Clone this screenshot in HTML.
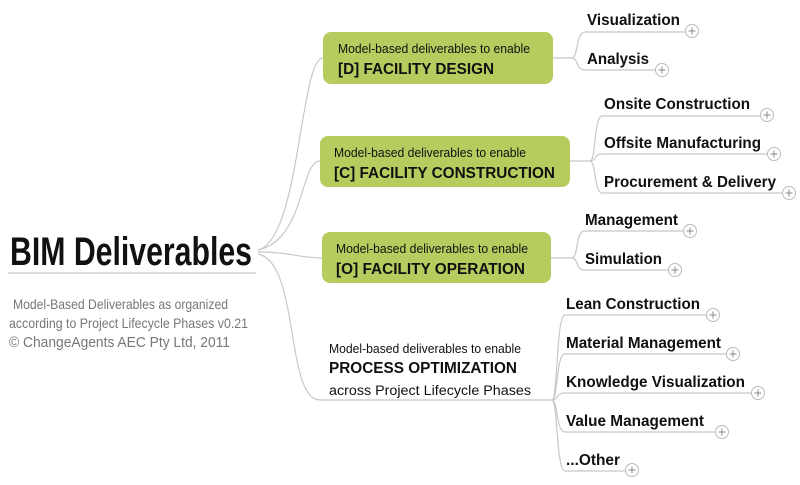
<!DOCTYPE html>
<html><head><meta charset="utf-8"><style>
html,body{margin:0;padding:0;background:#fff;width:800px;height:485px;overflow:hidden}
svg{display:block}
text{font-family:"Liberation Sans",sans-serif}
.b{font-weight:bold;fill:#111}
.leaf{font-weight:bold;font-size:16px;fill:#111}
.sm{font-size:12.5px;fill:#111}
.ln{fill:none;stroke:#c8c8c8;stroke-width:1.2}
.pl circle{fill:#fff;stroke:#bbb;stroke-width:1}
.pl path{stroke:#888;stroke-width:1}
</style></head><body>
<svg width="800" height="485" viewBox="0 0 800 485">
<path class="ln" d="M258 250 C300 240 300 58 323 58"/>
<path class="ln" d="M258 250 C305 240 300 161 320 161"/>
<path class="ln" d="M258 252 C290 252 300 258 322 258"/>
<path class="ln" d="M258 254 C300 262 285 400 320 400 L552 400"/>

<text x="10" y="265" class="b" font-size="40" textLength="242" lengthAdjust="spacingAndGlyphs">BIM Deliverables</text>
<line x1="8" y1="273" x2="256" y2="273" stroke="#c8c8c8" stroke-width="1.2"/>
<text x="13" y="309" font-size="14" fill="#777" textLength="215" lengthAdjust="spacingAndGlyphs">Model-Based Deliverables as organized</text>
<text x="9" y="328" font-size="14" fill="#777" textLength="239" lengthAdjust="spacingAndGlyphs">according to Project Lifecycle Phases  v0.21</text>
<text x="9" y="347" font-size="15" fill="#777" textLength="221" lengthAdjust="spacingAndGlyphs">© ChangeAgents AEC Pty Ltd, 2011</text>

<rect x="323" y="32" width="230" height="52" rx="8" fill="#b6cc5e"/>
<text x="338" y="53" class="sm" textLength="192" lengthAdjust="spacingAndGlyphs">Model-based deliverables to enable</text>
<text x="338" y="74" class="b" font-size="16" textLength="156" lengthAdjust="spacingAndGlyphs">[D] FACILITY DESIGN</text>

<rect x="320" y="136" width="250" height="51" rx="8" fill="#b6cc5e"/>
<text x="334" y="157" class="sm" textLength="192" lengthAdjust="spacingAndGlyphs">Model-based deliverables to enable</text>
<text x="334" y="178" class="b" font-size="16" textLength="221" lengthAdjust="spacingAndGlyphs">[C] FACILITY CONSTRUCTION</text>

<rect x="322" y="232" width="229" height="51" rx="8" fill="#b6cc5e"/>
<text x="336" y="253" class="sm" textLength="192" lengthAdjust="spacingAndGlyphs">Model-based deliverables to enable</text>
<text x="336" y="274" class="b" font-size="16" textLength="189" lengthAdjust="spacingAndGlyphs">[O] FACILITY OPERATION</text>

<text x="329" y="353" class="sm" textLength="192" lengthAdjust="spacingAndGlyphs">Model-based deliverables to enable</text>
<text x="329" y="373" class="b" font-size="16" textLength="188" lengthAdjust="spacingAndGlyphs">PROCESS OPTIMIZATION</text>
<text x="329" y="395" font-size="13.5" fill="#111" textLength="202" lengthAdjust="spacingAndGlyphs">across Project Lifecycle Phases</text>

<path class="ln" d="M553 58 L572 58 C578 58 576 32 585 32 L686 32"/>
<path class="ln" d="M572 58 C578 58 576 70 585 70 L655 70"/>
<path class="ln" d="M570 161 L590 161 C596 161 594 116 602 116 L761 116"/>
<path class="ln" d="M590 161 C596 161 594 154 602 154 L768 154"/>
<path class="ln" d="M590 161 C596 161 594 193 602 193 L783 193"/>
<path class="ln" d="M551 258 L572 258 C578 258 576 231 584 231 L684 231"/>
<path class="ln" d="M572 258 C578 258 576 270 584 270 L669 270"/>
<path class="ln" d="M552 400 C558 400 556 315 565 315 L707 315"/>
<path class="ln" d="M552 400 C558 400 556 354 565 354 L727 354"/>
<path class="ln" d="M552 400 C558 400 556 393 565 393 L752 393"/>
<path class="ln" d="M552 400 C558 400 556 432 565 432 L716 432"/>
<path class="ln" d="M552 400 C558 400 556 471 565 471 L626 471"/>

<text x="587" y="25" class="leaf" textLength="93" lengthAdjust="spacingAndGlyphs">Visualization</text>
<text x="587" y="64" class="leaf" textLength="62" lengthAdjust="spacingAndGlyphs">Analysis</text>
<text x="604" y="109" class="leaf" textLength="146" lengthAdjust="spacingAndGlyphs">Onsite Construction</text>
<text x="604" y="148" class="leaf" textLength="157" lengthAdjust="spacingAndGlyphs">Offsite Manufacturing</text>
<text x="604" y="187" class="leaf" textLength="172" lengthAdjust="spacingAndGlyphs">Procurement &amp; Delivery</text>
<text x="585" y="225" class="leaf" textLength="93" lengthAdjust="spacingAndGlyphs">Management</text>
<text x="585" y="264" class="leaf" textLength="77" lengthAdjust="spacingAndGlyphs">Simulation</text>
<text x="566" y="309" class="leaf" textLength="134" lengthAdjust="spacingAndGlyphs">Lean Construction</text>
<text x="566" y="348" class="leaf" textLength="155" lengthAdjust="spacingAndGlyphs">Material Management</text>
<text x="566" y="387" class="leaf" textLength="179" lengthAdjust="spacingAndGlyphs">Knowledge Visualization</text>
<text x="566" y="426" class="leaf" textLength="138" lengthAdjust="spacingAndGlyphs">Value Management</text>
<text x="566" y="465" class="leaf" textLength="54" lengthAdjust="spacingAndGlyphs">...Other</text>

<g class="pl">
<g transform="translate(692,31)"><circle r="6.5"/><path d="M-3.5 0H3.5M0 -3.5V3.5"/></g>
<g transform="translate(662,70)"><circle r="6.5"/><path d="M-3.5 0H3.5M0 -3.5V3.5"/></g>
<g transform="translate(767,115)"><circle r="6.5"/><path d="M-3.5 0H3.5M0 -3.5V3.5"/></g>
<g transform="translate(774,154)"><circle r="6.5"/><path d="M-3.5 0H3.5M0 -3.5V3.5"/></g>
<g transform="translate(789,193)"><circle r="6.5"/><path d="M-3.5 0H3.5M0 -3.5V3.5"/></g>
<g transform="translate(690,231)"><circle r="6.5"/><path d="M-3.5 0H3.5M0 -3.5V3.5"/></g>
<g transform="translate(675,270)"><circle r="6.5"/><path d="M-3.5 0H3.5M0 -3.5V3.5"/></g>
<g transform="translate(713,315)"><circle r="6.5"/><path d="M-3.5 0H3.5M0 -3.5V3.5"/></g>
<g transform="translate(733,354)"><circle r="6.5"/><path d="M-3.5 0H3.5M0 -3.5V3.5"/></g>
<g transform="translate(758,393)"><circle r="6.5"/><path d="M-3.5 0H3.5M0 -3.5V3.5"/></g>
<g transform="translate(722,432)"><circle r="6.5"/><path d="M-3.5 0H3.5M0 -3.5V3.5"/></g>
<g transform="translate(632,470)"><circle r="6.5"/><path d="M-3.5 0H3.5M0 -3.5V3.5"/></g>
</g>
</svg>
</body></html>
